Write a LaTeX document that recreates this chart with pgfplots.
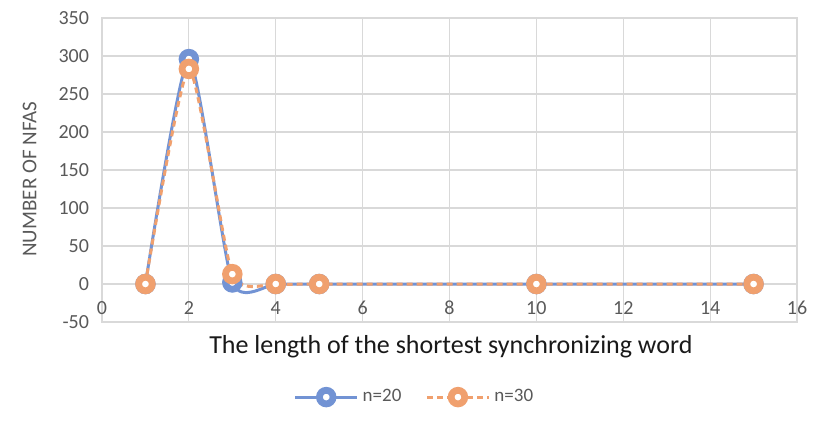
\documentclass[border=0pt]{standalone}
\usepackage{pgfplots}
\pgfplotsset{compat=1.18}
\usepackage{fontspec}
\setmainfont{Carlito}
\definecolor{gridc}{RGB}{217,217,217}
\definecolor{tickc}{RGB}{89,89,89}
\definecolor{blueS}{RGB}{114,147,212}
\definecolor{orangeS}{RGB}{240,160,110}
\begin{document}
\begin{tikzpicture}
\useasboundingbox (0,0) rectangle (411pt,215pt);
\begin{axis}[
  at={(51pt,54pt)}, anchor=south west,
  scale only axis, width=347.5pt, height=152pt,
  xmin=0, xmax=16, ymin=-50, ymax=350,
  xtick={0,2,...,16}, ytick={-50,0,...,350},
  grid=major, major grid style={gridc, line width=0.6pt},
  axis line style={gridc, line width=0.6pt},
  tick style={draw=none},
  /pgf/number format/assume math mode=true,
  ticklabel style={font=\fontsize{10}{12}\selectfont, text=tickc},
  xticklabel style={anchor=center, yshift=7pt},
  yticklabel style={xshift=-3pt},
  xlabel={The length of the shortest synchronizing word},
  xlabel style={at={(axis description cs:0.502,-0.082)}, anchor=center, font=\fontsize{13}{15}\selectfont, text=black!90},
  ylabel={NUMBER OF NFAS},
  ylabel style={at={(axis description cs:-0.104,0.47)}, anchor=center, rotate=0, font=\fontsize{10.5}{12}\selectfont, text=tickc},
  legend style={at={(axis description cs:0.451,-0.247)}, anchor=center, draw=none, fill=none,
    legend columns=2, font=\fontsize{9.5}{11}\selectfont, text=tickc,
    /tikz/every even column/.append style={column sep=10pt}},
  legend image code/.code={
    \draw[#1, mark=none] (0cm,0cm) -- (31pt,0cm);
    \draw[#1, solid, only marks] plot coordinates {(15.5pt,0cm)};
  },
  clip=false,
]
\addplot[blueS, line width=1.5pt, smooth, tension=0.35, mark=*, mark size=3.4pt,
  mark options={fill=white, draw=blueS, line width=3.4pt, solid}]
  coordinates {(1,0) (2,296) (3,2) (4,0) (5,0) (10,0) (15,0)};
\addlegendentry{n=20}
\addplot[orangeS, line width=1.5pt, smooth, tension=0.35, dash pattern=on 3pt off 2pt, mark=*, mark size=3.4pt,
  mark options={fill=white, draw=orangeS, line width=3.4pt, solid}]
  coordinates {(1,0) (2,283) (3,13) (4,0) (5,0) (10,0) (15,0)};
\addlegendentry{n=30}
\end{axis}
\end{tikzpicture}
\end{document}
